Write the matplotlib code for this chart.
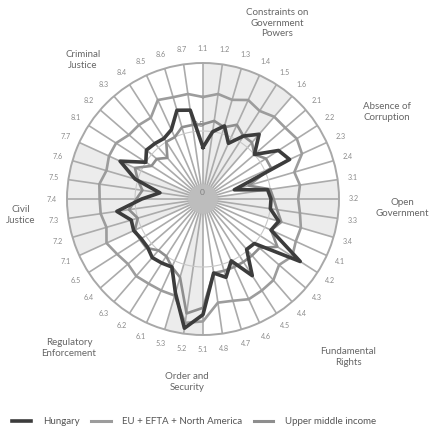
import numpy as np
import matplotlib.pyplot as plt
from matplotlib.lines import Line2D

plt.rcParams['font.family'] = ['Lato', 'DejaVu Sans']

subfactors = ["1.1", "1.2", "1.3", "1.4", "1.5", "1.6",
              "2.1", "2.2", "2.3", "2.4",
              "3.1", "3.2", "3.3", "3.4",
              "4.1", "4.2", "4.3", "4.4", "4.5", "4.6", "4.7", "4.8",
              "5.1", "5.2", "5.3",
              "6.1", "6.2", "6.3", "6.4", "6.5",
              "7.1", "7.2", "7.3", "7.4", "7.5", "7.6", "7.7",
              "8.1", "8.2", "8.3", "8.4", "8.5", "8.6", "8.7"]

hungary = [0.38, 0.50, 0.56, 0.45, 0.55, 0.63,
           0.50, 0.66, 0.70, 0.24,
           0.48, 0.50, 0.50, 0.58,
           0.55, 0.85, 0.50, 0.49, 0.67, 0.50, 0.60, 0.55,
           0.85, 0.96, 0.72,
           0.55, 0.56, 0.57, 0.54, 0.54,
           0.56, 0.55, 0.64, 0.45, 0.32, 0.52, 0.67,
           0.50, 0.55, 0.54, 0.53, 0.56, 0.68, 0.66]

eu_efta_na = [0.75, 0.78, 0.76, 0.80, 0.77, 0.80,
              0.80, 0.82, 0.80, 0.70,
              0.72, 0.70, 0.72, 0.75,
              0.75, 0.78, 0.74, 0.79, 0.80, 0.81, 0.78, 0.77,
              0.90, 0.92, 0.74,
              0.74, 0.74, 0.75, 0.73, 0.75,
              0.78, 0.74, 0.76, 0.76, 0.77, 0.74, 0.76,
              0.76, 0.72, 0.72, 0.71, 0.80, 0.78, 0.78]

upper_middle = [0.55, 0.58, 0.55, 0.60, 0.55, 0.55,
                0.50, 0.55, 0.55, 0.35,
                0.50, 0.52, 0.55, 0.60,
                0.55, 0.65, 0.55, 0.55, 0.55, 0.55, 0.55, 0.55,
                0.80, 0.85, 0.60,
                0.55, 0.50, 0.50, 0.55, 0.55,
                0.55, 0.50, 0.55, 0.49, 0.45, 0.50, 0.55,
                0.45, 0.45, 0.40, 0.50, 0.50, 0.55, 0.55]

factor_names = ["Constraints on\nGovernment\nPowers", "Absence of\nCorruption",
                "Open\nGovernment", "Fundamental\nRights", "Order and\nSecurity",
                "Regulatory\nEnforcement", "Civil\nJustice", "Criminal\nJustice"]
legend_labels = ["Hungary", "EU + EFTA + North America", "Upper middle income"]
radial_ticks = [0, 0.5]

W, H = 431, 433
fig = plt.figure(figsize=(W / 100, H / 100), dpi=100)
cx, cy, R = 203, 199, 136
ax = fig.add_axes([(cx - R) / W, (H - cy - R) / H, 2 * R / W, 2 * R / H], projection='polar')
ax.set_theta_offset(np.pi / 2)
ax.set_theta_direction(-1)
ax.set_ylim(0, 1)
ax.grid(False)
ax.set_xticks([])
ax.set_yticks([])
ax.spines['polar'].set_color('#a8a8a8')
ax.spines['polar'].set_linewidth(1.4)
ax.patch.set_facecolor('white')

n = len(subfactors)
angles = np.arange(n) * 2 * np.pi / n
groups = [s.split('.')[0] for s in subfactors]

# shaded wedges for alternate factors
for g in ['1', '3', '5', '7']:
    idx = [i for i, s in enumerate(groups) if s == g]
    a0, a1 = angles[idx[0]], angles[idx[-1]]
    ax.bar(a0, 1.0, width=a1 - a0, align='edge', color='#ececec', edgecolor='none', zorder=0)

# spokes
for a in angles:
    ax.plot([a, a], [0, 1], color='#ababab', lw=1.2, zorder=1, solid_capstyle='butt')

# ring at 0.5
th = np.linspace(0, 2 * np.pi, 400)
ax.plot(th, np.full_like(th, 0.5), color='#c8c8c8', lw=0.8, zorder=1)

# center disc
ax.bar(0, 0.11, width=2 * np.pi, bottom=0, color='#bdbdbd', edgecolor='none', zorder=1.5)

# radial labels
for v in radial_ticks:
    ax.text(-0.06, v + 0.05, f"{v:g}", fontsize=6, color='#808080', ha='center', va='center', zorder=2)

ang_c = np.append(angles, angles[0])
def closed(v):
    return np.append(v, v[0])

ax.plot(ang_c, closed(upper_middle), color='#8e8e8e', lw=1.9, zorder=3)
ax.plot(ang_c, closed(eu_efta_na), color='#9c9c9c', lw=1.9, zorder=3)
ax.plot(ang_c, closed(hungary), color='#3c3c3c', lw=2.6, zorder=4)

# sub-factor labels
for a, s in zip(angles, subfactors):
    ax.text(a, 1.11, s, fontsize=5.2, color='#8a8a8a', ha='center', va='center')

# factor labels (figure pixel positions)
factor_pos = [(277, 23), (387, 112), (402, 208), (348, 357), (187, 382),
              (69, 348), (21, 215), (83, 60)]
for name, (px, py) in zip(factor_names, factor_pos):
    fig.text(px / W, 1 - py / H, name, fontsize=7, color='#666666', ha='center', va='center',
             linespacing=1.15)

handles = [Line2D([], [], color='#3c3c3c', lw=2.6),
           Line2D([], [], color='#9c9c9c', lw=2.2),
           Line2D([], [], color='#8e8e8e', lw=2.2)]
fig.legend(handles, legend_labels, loc='center', bbox_to_anchor=(0.45, 1 - 422 / H), ncol=3,
           frameon=False, fontsize=7, handlelength=2.0, columnspacing=1.2, handletextpad=1.2,
           labelcolor='#555555')

fig.savefig('out.png', dpi=100)
